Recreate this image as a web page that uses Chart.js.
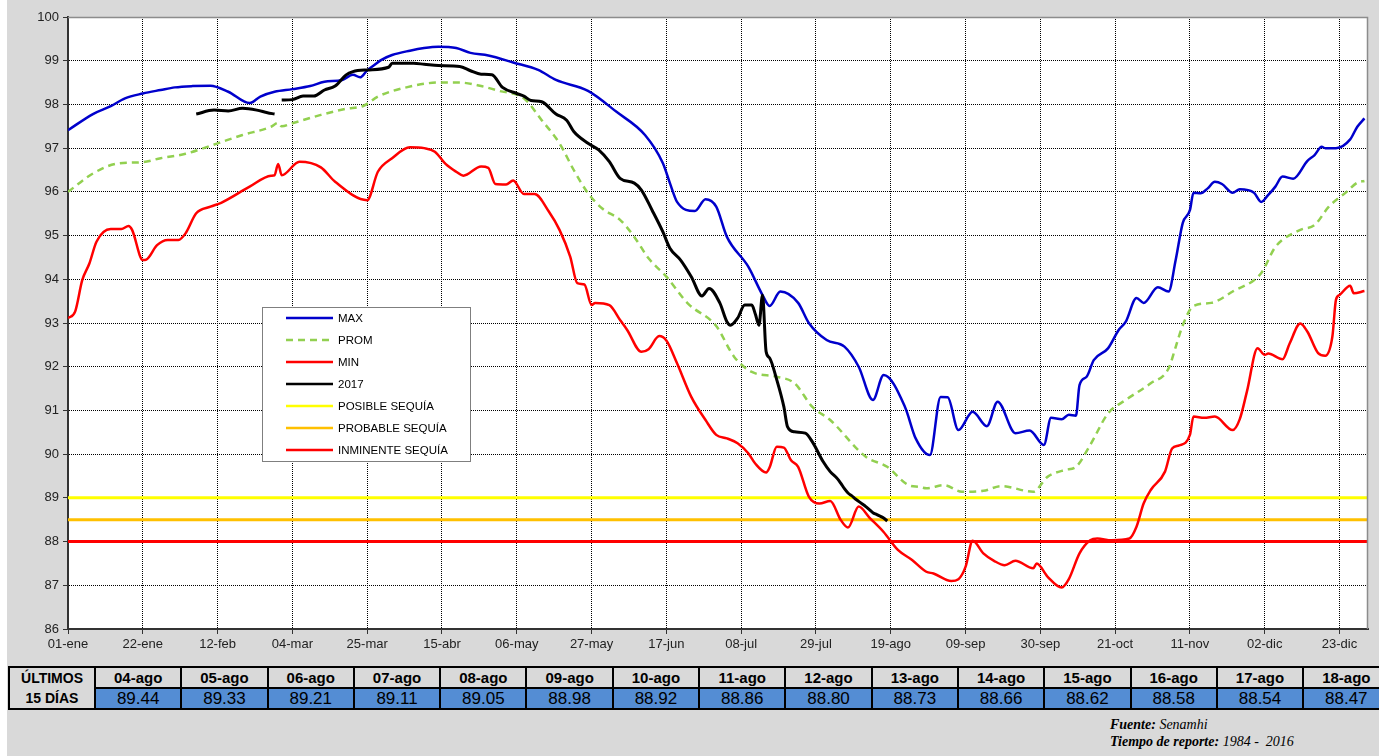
<!DOCTYPE html>
<html lang="es">
<head>
<meta charset="utf-8">
<title>Niveles 2017</title>
<script src="https://cdn.jsdelivr.net/npm/chart.js@4.4.0/dist/chart.umd.min.js"></script>
<style>
  html, body { margin: 0; padding: 0; background: #fff; }
  #page { position: relative; width: 1379px; height: 756px; overflow: hidden; }
  #fondo { position: absolute; left: 7px; top: 0; width: 1372px; height: 756px; background: #d9d9d9; }
  #grafico { position: absolute; left: 0; top: 0; }
  #tabla { position: absolute; left: 8px; top: 666px; border-collapse: collapse; table-layout: fixed;
           width: 1380px; font-family: Arial, "Liberation Sans", sans-serif; color: #000; }
  #tabla td { border: 2px solid #000; text-align: center; padding: 0; overflow: hidden; white-space: nowrap; }
  #tabla td.etiqueta { background: #d9d9d9; font-weight: bold; font-size: 14px; line-height: 20px; }
  #tabla td.fecha { background: #d9d9d9; font-weight: bold; font-size: 15px; height: 19px; line-height: 19px; }
  #tabla td.valor { background: #548dd4; font-size: 17px; height: 19px; line-height: 19px; }
  .pie { position: absolute; left: 1110px; font-family: "Liberation Serif", "Times New Roman", serif;
         font-size: 14px; line-height: 16px; font-style: italic; white-space: pre; color: #000; }
</style>
</head>
<body>
<div id="page">
  <div id="fondo"></div>
  <canvas id="grafico" width="1379" height="660"></canvas>
  <table id="tabla"></table>
  <div class="pie" style="top:717px"><b>Fuente:</b> Senamhi</div>
  <div class="pie" style="top:734px"><b>Tiempo de reporte:</b> 1984 -  2016</div>
</div>
<script>
// eje x: dia del año (0 = 01-ene), año bisiesto
const tickDias = [0, 21, 42, 63, 84, 105, 126, 147, 168, 189, 210, 231, 252, 273, 294, 315, 336, 357];
const tickEtiquetas = ["01-ene", "22-ene", "12-feb", "04-mar", "25-mar", "15-abr", "06-may", "27-may",
  "17-jun", "08-jul", "29-jul", "19-ago", "09-sep", "30-sep", "21-oct", "11-nov", "02-dic", "23-dic"];

const diasMax = [0, 7, 12, 16, 21, 26, 30, 35, 40, 45, 51, 54, 58, 63, 68, 72, 77, 80, 82, 84, 86, 88, 91, 96,
  100, 104, 109, 113, 118, 125, 132, 137, 146, 154, 162, 167, 169, 171, 176, 179, 182, 185, 191, 195, 197,
  200, 205, 208, 213, 218, 222, 226, 229, 235, 238, 242, 245, 247, 250, 254, 258, 261, 266, 270, 274, 276,
  279, 281, 283, 284, 286, 288, 292, 295, 297, 300, 302, 306, 309, 311, 313, 315, 316, 318, 320, 322, 324,
  327, 329, 333, 335, 337, 339, 341, 344, 348, 350, 352, 353, 356, 360, 362, 364];
const valoresMax = [97.41, 97.78, 97.96, 98.14, 98.25, 98.33, 98.39, 98.42, 98.43, 98.29, 98.03, 98.18, 98.29,
  98.35, 98.42, 98.52, 98.56, 98.68, 98.62, 98.78, 98.9, 99.02, 99.13, 99.23, 99.29, 99.32, 99.29, 99.18,
  99.12, 98.96, 98.79, 98.56, 98.31, 97.83, 97.3, 96.66, 96.2, 95.77, 95.56, 95.83, 95.66, 94.97, 94.29,
  93.64, 93.39, 93.72, 93.46, 93.0, 92.61, 92.46, 92.0, 91.24, 91.81, 91.08, 90.36, 89.98, 91.31, 91.3,
  90.55, 90.97, 90.64, 91.2, 90.48, 90.54, 90.21, 90.83, 90.8, 90.9, 90.88, 91.58, 91.77, 92.15, 92.42,
  92.84, 93.03, 93.57, 93.46, 93.82, 93.72, 94.44, 95.29, 95.58, 95.98, 95.97, 96.08, 96.23, 96.18, 95.98,
  96.06, 95.98, 95.77, 95.93, 96.12, 96.35, 96.3, 96.71, 96.84, 97.03, 97.0, 97.0, 97.2, 97.49, 97.68];

const diasProm = [0, 7, 14, 21, 26, 33, 42, 49, 57, 59, 60, 63, 71, 78, 83, 87, 95, 104, 110, 116, 121, 128,
  133, 138, 142, 146, 150, 155, 159, 163, 168, 174, 182, 187, 192, 199, 204, 209, 214, 224, 230, 236, 239,
  241, 246, 251, 257, 262, 271, 275, 280, 283, 287, 292, 297, 304, 309, 311, 313, 316, 321, 327, 335, 339,
  346, 350, 354, 359, 362, 364];
const valoresProm = [96.0, 96.42, 96.65, 96.68, 96.77, 96.87, 97.11, 97.3, 97.49, 97.58, 97.5, 97.57, 97.76,
  97.9, 97.97, 98.18, 98.39, 98.5, 98.5, 98.42, 98.31, 98.14, 97.64, 97.11, 96.5, 95.97, 95.62, 95.36, 94.97,
  94.48, 94.06, 93.45, 92.93, 92.23, 91.88, 91.77, 91.62, 91.08, 90.78, 89.94, 89.71, 89.29, 89.25, 89.22,
  89.29, 89.14, 89.16, 89.27, 89.14, 89.48, 89.64, 89.71, 90.21, 90.93, 91.24, 91.62, 91.96, 92.45, 92.95,
  93.39, 93.46, 93.72, 94.14, 94.74, 95.13, 95.24, 95.66, 96.0, 96.21, 96.25];

const diasMin = [0, 2, 4, 6, 8, 12, 15, 17, 18, 21, 22, 25, 28, 31, 33, 36, 40, 43, 51, 57, 58, 59, 60, 65,
  71, 75, 84, 87, 91, 96, 100, 103, 106, 109, 111, 116, 118, 120, 123, 125, 128, 131, 135, 138, 141, 143,
  145, 147, 148, 152, 155, 157, 161, 163, 166, 168, 171, 175, 179, 182, 185, 188, 191, 193, 196, 197, 199,
  201, 203, 205, 208, 211, 214, 217, 219, 222, 225, 229, 233, 237, 241, 243, 248, 250, 252, 254, 257, 260,
  263, 266, 271, 272, 275, 279, 281, 284, 287, 289, 293, 298, 300, 302, 304, 308, 310, 312, 315, 316, 319,
  322, 327, 329, 331, 334, 336, 337, 341, 343, 346, 348, 351, 353, 355, 356, 357, 360, 361, 364];
const valoresMin = [93.11, 93.26, 93.98, 94.36, 94.86, 95.15, 95.15, 95.22, 95.13, 94.44, 94.45, 94.78, 94.9,
  94.9, 95.05, 95.51, 95.66, 95.75, 96.12, 96.37, 96.38, 96.64, 96.38, 96.69, 96.56, 96.23, 95.81, 96.46,
  96.77, 97.02, 97.0, 96.92, 96.64, 96.46, 96.37, 96.58, 96.55, 96.18, 96.17, 96.26, 95.95, 95.95, 95.55,
  95.13, 94.52, 93.91, 93.88, 93.41, 93.46, 93.41, 93.07, 92.84, 92.34, 92.4, 92.7, 92.6, 92.08, 91.31,
  90.78, 90.44, 90.36, 90.25, 90.02, 89.78, 89.58, 89.7, 90.17, 90.15, 89.86, 89.71, 89.03, 88.87, 88.93,
  88.49, 88.32, 88.8, 88.55, 88.22, 87.81, 87.58, 87.31, 87.27, 87.1, 87.14, 87.42, 88.02, 87.73, 87.56,
  87.46, 87.56, 87.39, 87.5, 87.2, 86.95, 87.14, 87.73, 88.03, 88.07, 88.03, 88.07, 88.34, 88.87, 89.18,
  89.6, 90.13, 90.2, 90.44, 90.86, 90.83, 90.86, 90.55, 90.8, 91.43, 92.42, 92.27, 92.3, 92.17, 92.53,
  92.99, 92.8, 92.31, 92.25, 92.69, 93.53, 93.64, 93.85, 93.68, 93.73];

// 2017 hasta el 03-ago (null = sin dato)
const dias2017 = [36, 41, 45, 49, 53, 56, 58, 59, 60, 63, 66, 69, 72, 75, 78, 80, 84, 90, 91, 97, 100, 104,
  110, 113, 116, 119, 122, 126, 128, 130, 133, 137, 140, 142, 146, 149, 152, 155, 159, 161, 164, 167, 169,
  172, 175, 178, 180, 183, 185, 186, 188, 190, 192, 193, 194, 195, 196, 197, 199, 201, 202, 204, 207, 209,
  212, 214];
const valores2017 = [97.78, 97.87, 97.85, 97.91, 97.87, 97.81, 97.78, null, 98.1, 98.11, 98.19, 98.19, 98.33,
  98.42, 98.67, 98.75, 98.79, 98.85, 98.94, 98.94, 98.92, 98.89, 98.87, 98.77, 98.69, 98.68, 98.39, 98.25,
  98.19, 98.09, 98.06, 97.78, 97.64, 97.38, 97.11, 96.96, 96.69, 96.31, 96.2, 96.04, 95.58, 95.09, 94.71,
  94.44, 94.06, 93.62, 93.79, 93.46, 93.03, 92.95, 93.11, 93.41, 93.41, 93.2, 92.95, 93.64, 92.35, 92.2,
  91.7, 91.08, 90.63, 90.51, 90.48, 90.28, 89.83, 89.6];

// últimos 15 días (tabla), 04-ago = día 216
const diaInicioUltimos = 216;
const ultimosFechas = ["04-ago", "05-ago", "06-ago", "07-ago", "08-ago", "09-ago", "10-ago", "11-ago",
  "12-ago", "13-ago", "14-ago", "15-ago", "16-ago", "17-ago", "18-ago"];
const ultimosValores = [89.44, 89.33, 89.21, 89.11, 89.05, 88.98, 88.92, 88.86, 88.80, 88.73, 88.66, 88.62,
  88.58, 88.54, 88.47];

// umbrales
const posibleSequia = 89;
const probableSequia = 88.5;
const inminenteSequia = 88;

const puntos = (dias, valores) => dias.map((d, i) => ({ x: d, y: valores[i] }));
const recta = (v) => [{ x: 0, y: v }, { x: 365, y: v }];

const serie2017 = puntos(dias2017, valores2017)
  .concat(ultimosValores.map((v, i) => ({ x: diaInicioUltimos + i, y: v })));

const fuente = 'Arial, "Liberation Sans", sans-serif';

// fondo blanco del área y marco superior/derecho gris
const marco = {
  id: "marco",
  beforeDraw(chart) {
    const { ctx, chartArea: a } = chart;
    ctx.save();
    ctx.fillStyle = "#fff";
    ctx.fillRect(a.left, a.top, a.right - a.left, a.bottom - a.top);
    ctx.restore();
  },
  afterDraw(chart) {
    const { ctx, chartArea: a } = chart;
    ctx.save();
    ctx.strokeStyle = "#8c8c8c";
    ctx.lineWidth = 1.5;
    ctx.beginPath();
    ctx.moveTo(a.left, a.top + 0.5);
    ctx.lineTo(a.right - 0.5, a.top + 0.5);
    ctx.lineTo(a.right - 0.5, a.bottom);
    ctx.stroke();
    ctx.restore();
  }
};

// leyenda dentro del gráfico
const leyenda = {
  id: "leyenda",
  afterDatasetsDraw(chart) {
    const ctx = chart.ctx;
    const x = 262, y = 307, w = 208, h = 154;
    ctx.save();
    ctx.fillStyle = "#fff";
    ctx.fillRect(x, y, w, h);
    ctx.strokeStyle = "#7f7f7f";
    ctx.lineWidth = 1;
    ctx.strokeRect(x + 0.5, y + 0.5, w, h);
    ctx.font = "11.5px " + fuente;
    ctx.textBaseline = "middle";
    chart.data.datasets.forEach((ds, i) => {
      const cy = y + 11 + i * 22;
      ctx.strokeStyle = ds.borderColor;
      ctx.lineWidth = 2.5;
      ctx.setLineDash(ds.borderDash || []);
      ctx.beginPath();
      ctx.moveTo(x + 24, cy);
      ctx.lineTo(x + 71, cy);
      ctx.stroke();
      ctx.setLineDash([]);
      ctx.fillStyle = "#000";
      ctx.fillText(ds.label, x + 76, cy + 1);
    });
    ctx.restore();
  }
};

new Chart(document.getElementById("grafico"), {
  type: "line",
  data: {
    datasets: [
      { label: "MAX", data: puntos(diasMax, valoresMax), borderColor: "#0000cc", borderWidth: 2.5, order: 3 },
      { label: "PROM", data: puntos(diasProm, valoresProm), borderColor: "#92d050", borderWidth: 2.5,
        borderDash: [7, 5], order: 4 },
      { label: "MIN", data: puntos(diasMin, valoresMin), borderColor: "#ff0000", borderWidth: 2.5, order: 2 },
      { label: "2017", data: serie2017, borderColor: "#000000", borderWidth: 3, order: 1 },
      { label: "POSIBLE SEQUÍA", data: recta(posibleSequia), borderColor: "#ffff00", borderWidth: 3, order: 5 },
      { label: "PROBABLE SEQUÍA", data: recta(probableSequia), borderColor: "#ffc000", borderWidth: 3, order: 6 },
      { label: "INMINENTE SEQUÍA", data: recta(inminenteSequia), borderColor: "#ff0000", borderWidth: 3, order: 7 }
    ]
  },
  options: {
    responsive: false,
    animation: false,
    devicePixelRatio: 1,
    layout: { padding: { left: 0, top: 17, right: 11, bottom: 0 } },
    elements: {
      point: { radius: 0 },
      line: { cubicInterpolationMode: "monotone", fill: false }
    },
    spanGaps: false,
    plugins: { legend: { display: false }, tooltip: { enabled: false } },
    scales: {
      x: {
        type: "linear",
        min: 0,
        max: 365,
        afterBuildTicks: (scale) => { scale.ticks = tickDias.map((v) => ({ value: v })); },
        afterFit: (scale) => { scale.height = 31; },
        ticks: {
          autoSkip: false,
          maxRotation: 0,
          padding: 3,
          color: "#222",
          font: { family: fuente, size: 13 },
          callback: (v) => tickEtiquetas[tickDias.indexOf(v)]
        },
        grid: { color: "#000", lineWidth: 1, tickLength: 5, tickColor: "#333", tickBorderDash: [] },
        border: { color: "#333", width: 2, dash: [1, 1] }
      },
      y: {
        min: 86,
        max: 100,
        afterFit: (scale) => { scale.width = 68; },
        ticks: { stepSize: 1, padding: 4, color: "#222", font: { family: fuente, size: 13 } },
        grid: { color: "#000", lineWidth: 1, tickLength: 5, tickColor: "#333", tickBorderDash: [] },
        border: { color: "#333", width: 2, dash: [1, 1] }
      }
    }
  },
  plugins: [marco, leyenda]
});

// tabla de últimos 15 días
const tabla = document.getElementById("tabla");
let cols = '<colgroup><col style="width:86px">' + ultimosFechas.map(() => '<col style="width:86.3px">').join("") + "</colgroup>";
let fila1 = '<tr><td class="etiqueta" rowspan="2">ÚLTIMOS<br>15 DÍAS</td>' +
  ultimosFechas.map((f) => '<td class="fecha">' + f + "</td>").join("") + "</tr>";
let fila2 = "<tr>" + ultimosValores.map((v) => '<td class="valor">' + v.toFixed(2) + "</td>").join("") + "</tr>";
tabla.innerHTML = cols + fila1 + fila2;
</script>
</body>
</html>
